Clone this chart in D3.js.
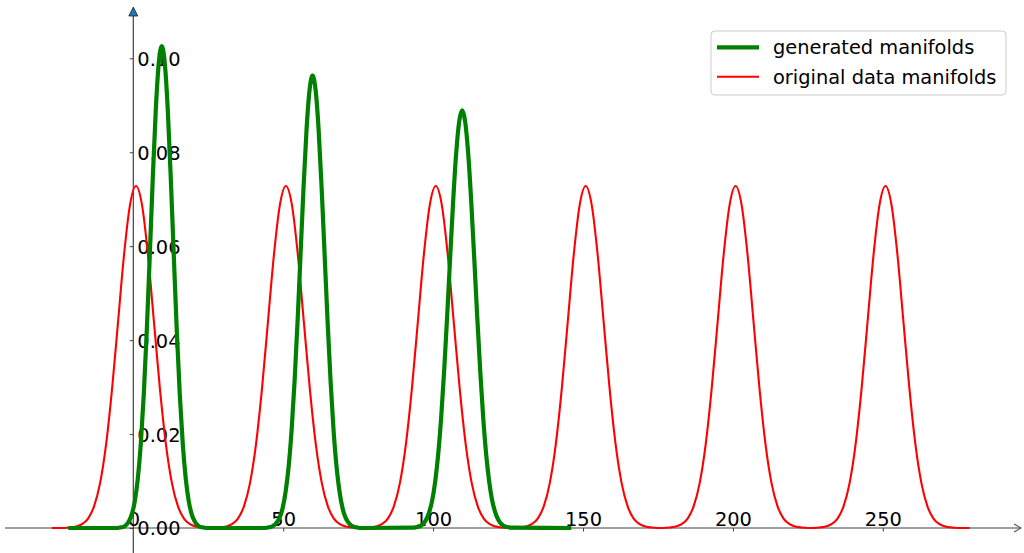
<!DOCTYPE html>
<html>
<head>
<meta charset="utf-8">
<script src="https://cdn.jsdelivr.net/npm/d3@7"></script>
<style>
  html, body { margin: 0; padding: 0; background: #fff; }
  svg { display: block; font-family: "DejaVu Sans", sans-serif; }
</style>
</head>
<body>
<svg id="chart" width="1024" height="553"></svg>
<script>
// ---------------- data ----------------
const xTicks = [0, 50, 100, 150, 200, 250];
const xTickLabels = ["0", "50", "100", "150", "200", "250"];
const yTicks = [0, 0.02, 0.04, 0.06, 0.08, 0.10];
const yTickLabels = ["0.00", "0.02", "0.04", "0.06", "0.08", "0.10"];

const seriesNames = ["generated manifolds", "original data manifolds"];

// original data manifolds: six identical bumps
const redStart = -27.2;
const redEnd = 279;
const redCenters = [0.9, 50.9, 100.9, 150.9, 200.9, 250.9];
// half profile: offset from centre (units) -> density
const redOffsets = [0, 2, 4, 6, 8, 10, 12, 14, 16, 18, 20, 22, 24];
const redValues  = [0.0728, 0.0688, 0.0581, 0.0438, 0.0295, 0.0177, 0.0095, 0.0046, 0.0020, 0.0008, 0.0003, 0.0001, 0];

// generated manifolds: three bumps
const greenStart = -21.7;
const greenEnd = 146.1;
const greenCenters = [9.5, 59.8, 109.7];
const greenOffsets = [0, 1, 2, 3, 4, 5, 6, 7, 8, 9, 10, 11, 12, 13, 14, 15, 16];
const greenValues1 = [0.1026, 0.0990, 0.0890, 0.0745, 0.0581, 0.0421, 0.0285, 0.0179, 0.0105, 0.0057, 0.0029, 0.0014, 0.0006, 0.0002, 0.0001, 0, 0];
const greenValues2 = [0.0963, 0.0933, 0.0850, 0.0727, 0.0584, 0.0441, 0.0313, 0.0208, 0.0130, 0.0077, 0.0042, 0.0022, 0.0011, 0.0005, 0.0002, 0.0001, 0];
const greenValues3 = [0.0889, 0.0865, 0.0798, 0.0697, 0.0577, 0.0452, 0.0336, 0.0236, 0.0157, 0.0099, 0.0059, 0.0034, 0.0018, 0.0009, 0.0004, 0.0002, 0.0001];

// ---------------- build point tables ----------------
function bumpPoints(center, offsets, values) {
  const pts = [];
  for (let i = offsets.length - 1; i > 0; i--) pts.push([center - offsets[i], values[i]]);
  for (let i = 0; i < offsets.length; i++) pts.push([center + offsets[i], values[i]]);
  return pts;
}
const redPts = [[redStart, 0]];
redCenters.forEach(c => redPts.push(...bumpPoints(c, redOffsets, redValues)));
redPts.push([redEnd, 0]);

const greenProfiles = [greenValues1, greenValues2, greenValues3];
const greenPts = [[greenStart, 0]];
greenCenters.forEach((c, i) => greenPts.push(...bumpPoints(c, greenOffsets, greenProfiles[i])));
greenPts.push([greenEnd, 0]);

// ---------------- drawing ----------------
const svg = d3.select("#chart");
const x = d3.scaleLinear().domain([0, 250]).range([133.3, 882.8]);
const y = d3.scaleLinear().domain([0, 0.1]).range([528, 58.3]);
const fontSize = 19.4;

// x axis line (spine through y=0)
svg.append("line")
  .attr("x1", 5).attr("x2", 1021)
  .attr("y1", y(0)).attr("y2", y(0))
  .attr("stroke", "#808080").attr("stroke-width", 1.3);
// open arrow head at the right
svg.append("path")
  .attr("d", `M1014,${y(0) - 4} L1021,${y(0)} L1014,${y(0) + 4}`)
  .attr("fill", "none").attr("stroke", "#606060").attr("stroke-width", 1.2);

// y axis line (spine through x=0)
svg.append("line")
  .attr("x1", x(0)).attr("x2", x(0))
  .attr("y1", 12).attr("y2", 553)
  .attr("stroke", "#404040").attr("stroke-width", 1.2);
// filled arrow at the top
svg.append("path")
  .attr("d", `M${x(0)},7 L${x(0) + 4.5},16 L${x(0) - 4.5},16 Z`)
  .attr("fill", "#1f77b4").attr("stroke", "#222").attr("stroke-width", 0.8);

// ticks and labels via d3 axes
const xAxis = d3.axisBottom(x).tickValues(xTicks).tickSize(3.5)
  .tickFormat((d, i) => xTickLabels[i]);
const gx = svg.append("g").attr("transform", `translate(0,${y(0)})`).call(xAxis);
gx.select(".domain").remove();
gx.selectAll(".tick line").attr("stroke", "#404040").attr("stroke-width", 1);
gx.selectAll(".tick").filter(d => d === 0).select("line").remove();
gx.selectAll(".tick text")
  .attr("y", -2).attr("dy", "0")
  .attr("fill", "#000")
  .style("font-size", fontSize + "px")
  .style("font-family", "'DejaVu Sans', sans-serif");

const yAxis = d3.axisLeft(y).tickValues(yTicks).tickSize(3.5)
  .tickFormat((d, i) => yTickLabels[i]);
const gy = svg.append("g").attr("transform", `translate(${x(0)},0)`).call(yAxis);
gy.select(".domain").remove();
gy.selectAll(".tick line").attr("stroke", "#404040").attr("stroke-width", 1);
gy.selectAll(".tick text")
  .attr("x", 4).attr("dy", "0.36em")
  .attr("text-anchor", "start")
  .attr("fill", "#000")
  .style("font-size", fontSize + "px")
  .style("font-family", "'DejaVu Sans', sans-serif");

// curves
const line = d3.line().x(d => x(d[0])).y(d => y(d[1])).curve(d3.curveMonotoneX);
svg.append("path").datum(redPts)
  .attr("d", line).attr("fill", "none")
  .attr("stroke", "#ff0000").attr("stroke-width", 2.1).attr("stroke-linejoin", "round");
svg.append("path").datum(greenPts)
  .attr("d", line).attr("fill", "none")
  .attr("stroke", "#008000").attr("stroke-width", 4.2).attr("stroke-linejoin", "round");

// legend
const legend = svg.append("g");
legend.append("rect")
  .attr("x", 711).attr("y", 31).attr("width", 295).attr("height", 64)
  .attr("rx", 4).attr("ry", 4)
  .attr("fill", "#fff").attr("fill-opacity", 0.8)
  .attr("stroke", "#cccccc").attr("stroke-width", 1);
const legendItems = [
  { name: seriesNames[0], color: "#008000", width: 4.2, ly: 47.3 },
  { name: seriesNames[1], color: "#ff0000", width: 2.1, ly: 76.7 }
];
legendItems.forEach(it => {
  legend.append("line")
    .attr("x1", 717).attr("x2", 759).attr("y1", it.ly).attr("y2", it.ly)
    .attr("stroke", it.color).attr("stroke-width", it.width);
  legend.append("text")
    .attr("x", 773).attr("y", it.ly).attr("dy", "0.36em")
    .attr("fill", "#000")
    .style("font-size", fontSize + "px")
    .text(it.name);
});
</script>
</body>
</html>
